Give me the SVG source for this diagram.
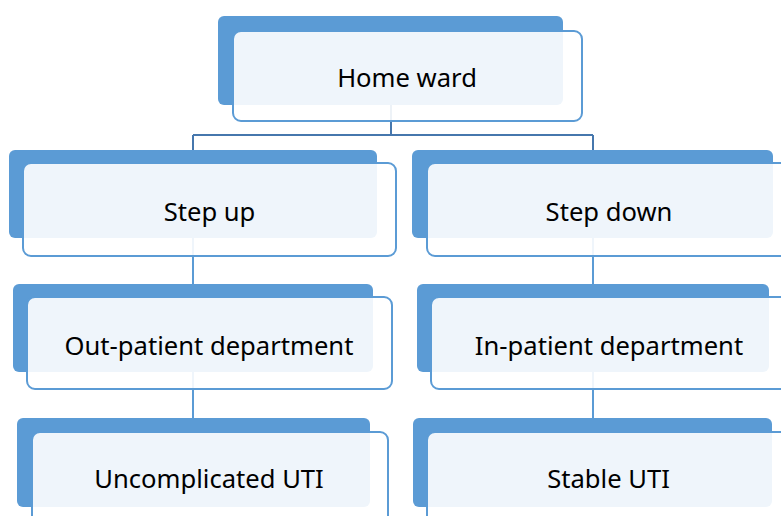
<svg xmlns="http://www.w3.org/2000/svg" width="781" height="516" viewBox="0 0 781 516">
<style>
.back{fill:#5B9BD5}
.front{fill:#ffffff;fill-opacity:0.9;stroke:#5B9BD5;stroke-width:2}
.lbl{font-family:"Noto Sans","Open Sans",sans-serif;font-size:25.6px;fill:#000;text-anchor:middle}
.conn{fill:none;stroke-width:2}
</style>
<rect width="781" height="516" fill="#ffffff"/>
<g id="connectors">
<path class="conn" stroke="#4677AD" d="M391 105 V135 M193 135 H593 M193 135 V150 M593 135 V150"/>
<path class="conn" stroke="#5B9BD5" d="M193 238 V284 M193 372 V418 M593 238 V284 M593 372 V418"/>
</g>
<g id="home-ward">
<rect class="back" x="218" y="16" width="345" height="89" rx="6"/>
<rect class="front" x="233" y="31" width="349" height="90" rx="8"/>
<text class="lbl" x="407" y="87">Home ward</text>
</g>
<g id="step-up">
<rect class="back" x="9" y="150" width="368" height="88" rx="6"/>
<rect class="front" x="23" y="163" width="373" height="93" rx="8"/>
<text class="lbl" x="209.5" y="221">Step up</text>
</g>
<g id="step-down">
<rect class="back" x="412" y="150" width="361" height="88" rx="6"/>
<rect class="front" x="427" y="163" width="364" height="93" rx="8"/>
<text class="lbl" x="609" y="221">Step down</text>
</g>
<g id="out-patient">
<rect class="back" x="13" y="284" width="360" height="88" rx="6"/>
<rect class="front" x="27" y="297" width="365" height="92" rx="8"/>
<text class="lbl" x="209" y="355">Out-patient department</text>
</g>
<g id="in-patient">
<rect class="back" x="417" y="284" width="352" height="88" rx="6"/>
<rect class="front" x="431" y="297" width="360" height="92" rx="8"/>
<text class="lbl" x="609" y="355">In-patient department</text>
</g>
<g id="uncomplicated-uti">
<rect class="back" x="17" y="418" width="353" height="89" rx="6"/>
<rect class="front" x="32" y="432" width="356" height="92" rx="8"/>
<text class="lbl" x="209" y="488">Uncomplicated UTI</text>
</g>
<g id="stable-uti">
<rect class="back" x="413" y="418" width="359" height="89" rx="6"/>
<rect class="front" x="427" y="432" width="364" height="92" rx="8"/>
<text class="lbl" x="608.5" y="488">Stable UTI</text>
</g>
</svg>
